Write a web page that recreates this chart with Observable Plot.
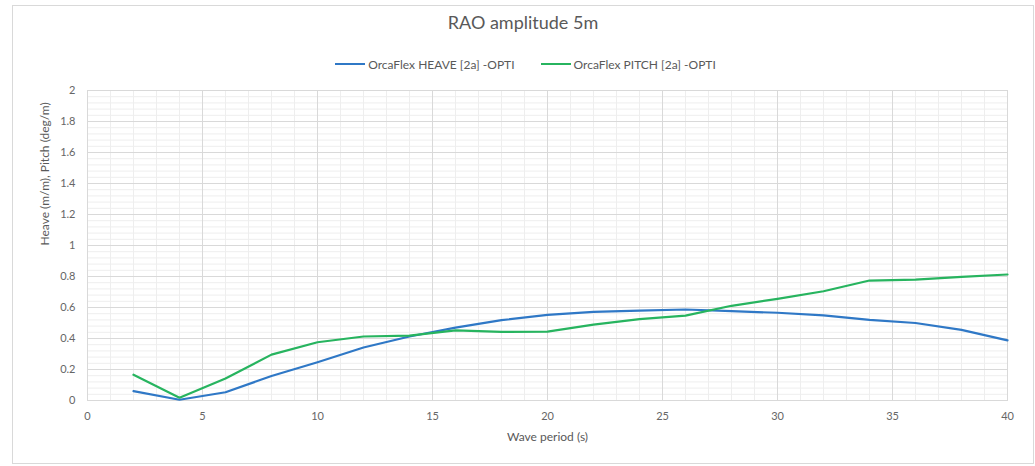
<!DOCTYPE html>
<html>
<head>
<meta charset="utf-8">
<script src="https://cdn.jsdelivr.net/npm/d3@7"></script>
<script src="https://cdn.jsdelivr.net/npm/@observablehq/plot@0.6"></script>
<style>
  html, body { margin: 0; padding: 0; background: #fff; }
  #chart { position: relative; width: 1035px; height: 466px; font-family: Lato, "Open Sans", sans-serif; }
  #border { position: absolute; left: 12px; top: 5px; width: 1020px; height: 457px; border: 1px solid #d9d9d9; pointer-events: none; }
  #header { height: 80px; position: relative; }
  #title { position: absolute; left: 0; width: 1046px; top: 11px; text-align: center; font-size: 18px; color: #595959; }
  #legend { position: absolute; left: 0; width: 1051px; top: 53px; text-align: center; font-size: 12px; color: #595959; white-space: nowrap; }
  .item { display: inline-flex; align-items: center; margin: 0 13px; }
  .swatch { display: inline-block; width: 30px; height: 2px; margin-right: 3px; }
  svg { display: block; }
</style>
</head>
<body>
<div id="chart">
  <div id="border"></div>
  <div id="header">
    <div id="title"></div>
    <div id="legend"></div>
  </div>
  <div id="plot"></div>
</div>
<script>
const title = "RAO amplitude 5m";
const xLabel = "Wave period (s)";
const yLabel = "Heave (m/m), Pitch (deg/m)";
const seriesNames = ["OrcaFlex HEAVE [2a] -OPTI", "OrcaFlex PITCH [2a] -OPTI"];
const seriesColors = ["#2f78c6", "#27b45f"];

const period = [2, 4, 6, 8, 10, 12, 14, 16, 18, 20, 22, 24, 26, 28, 30, 32, 34, 36, 38, 40];
const heave = [0.06, 0.005, 0.053, 0.158, 0.247, 0.342, 0.413, 0.47, 0.518, 0.552, 0.572, 0.58, 0.587, 0.576, 0.566, 0.549, 0.52, 0.5, 0.456, 0.388];
const pitch = [0.166, 0.018, 0.142, 0.296, 0.376, 0.413, 0.418, 0.452, 0.443, 0.444, 0.49, 0.525, 0.548, 0.611, 0.656, 0.705, 0.774, 0.78, 0.797, 0.813];

const xTicks = [0, 5, 10, 15, 20, 25, 30, 35, 40];
const yTicks = [0, 0.2, 0.4, 0.6, 0.8, 1, 1.2, 1.4, 1.6, 1.8, 2];
const xMinor = d3.range(0, 41, 1);
const yMinor = d3.range(0, 51, 1).map(i => i * 0.04);

document.getElementById("title").textContent = title;
const legend = document.getElementById("legend");
seriesNames.forEach((n, i) => {
  const it = document.createElement("span");
  it.className = "item";
  const sw = document.createElement("span");
  sw.className = "swatch";
  sw.style.background = seriesColors[i];
  const tx = document.createElement("span");
  tx.textContent = n;
  it.appendChild(sw); it.appendChild(tx);
  legend.appendChild(it);
});

const rows = [];
period.forEach((p, i) => {
  rows.push({x: p, y: heave[i], s: seriesNames[0]});
  rows.push({x: p, y: pitch[i], s: seriesNames[1]});
});

const chart = Plot.plot({
  width: 1035,
  height: 386,
  marginTop: 10,
  marginBottom: 66,
  marginLeft: 87,
  marginRight: 28,
  style: { fontFamily: "Lato, 'Open Sans', sans-serif", fontSize: "11px", color: "#595959", background: "#fff" },
  x: { domain: [0, 40] },
  y: { domain: [0, 2] },
  color: { domain: seriesNames, range: seriesColors },
  marks: [
    Plot.ruleX(xMinor, { stroke: "#eeeeee", strokeWidth: 1 }),
    Plot.ruleY(yMinor, { stroke: "#eeeeee", strokeWidth: 1 }),
    Plot.ruleX(xTicks, { stroke: "#d9d9d9", strokeWidth: 1 }),
    Plot.ruleY(yTicks, { stroke: "#d9d9d9", strokeWidth: 1 }),
    Plot.frame({ stroke: "#d9d9d9" }),
    Plot.axisX({ ticks: xTicks, tickSize: 0, tickPadding: 12, fill: "#666666", fontSize: 11, label: null }),
    Plot.axisY({ ticks: yTicks, tickSize: 0, tickPadding: 12, fill: "#666666", fontSize: 11, label: null, tickFormat: d => String(d) }),
    Plot.text([xLabel], { frameAnchor: "bottom", dy: 40, text: d => d, fill: "#595959", fontSize: 12 }),
    Plot.text([yLabel], { frameAnchor: "left", dx: -42, rotate: -90, text: d => d, fill: "#595959", fontSize: 12 }),
    Plot.line(rows, { x: "x", y: "y", z: "s", stroke: "s", strokeWidth: 2.2 })
  ]
});
document.getElementById("plot").appendChild(chart);
</script>
</body>
</html>
